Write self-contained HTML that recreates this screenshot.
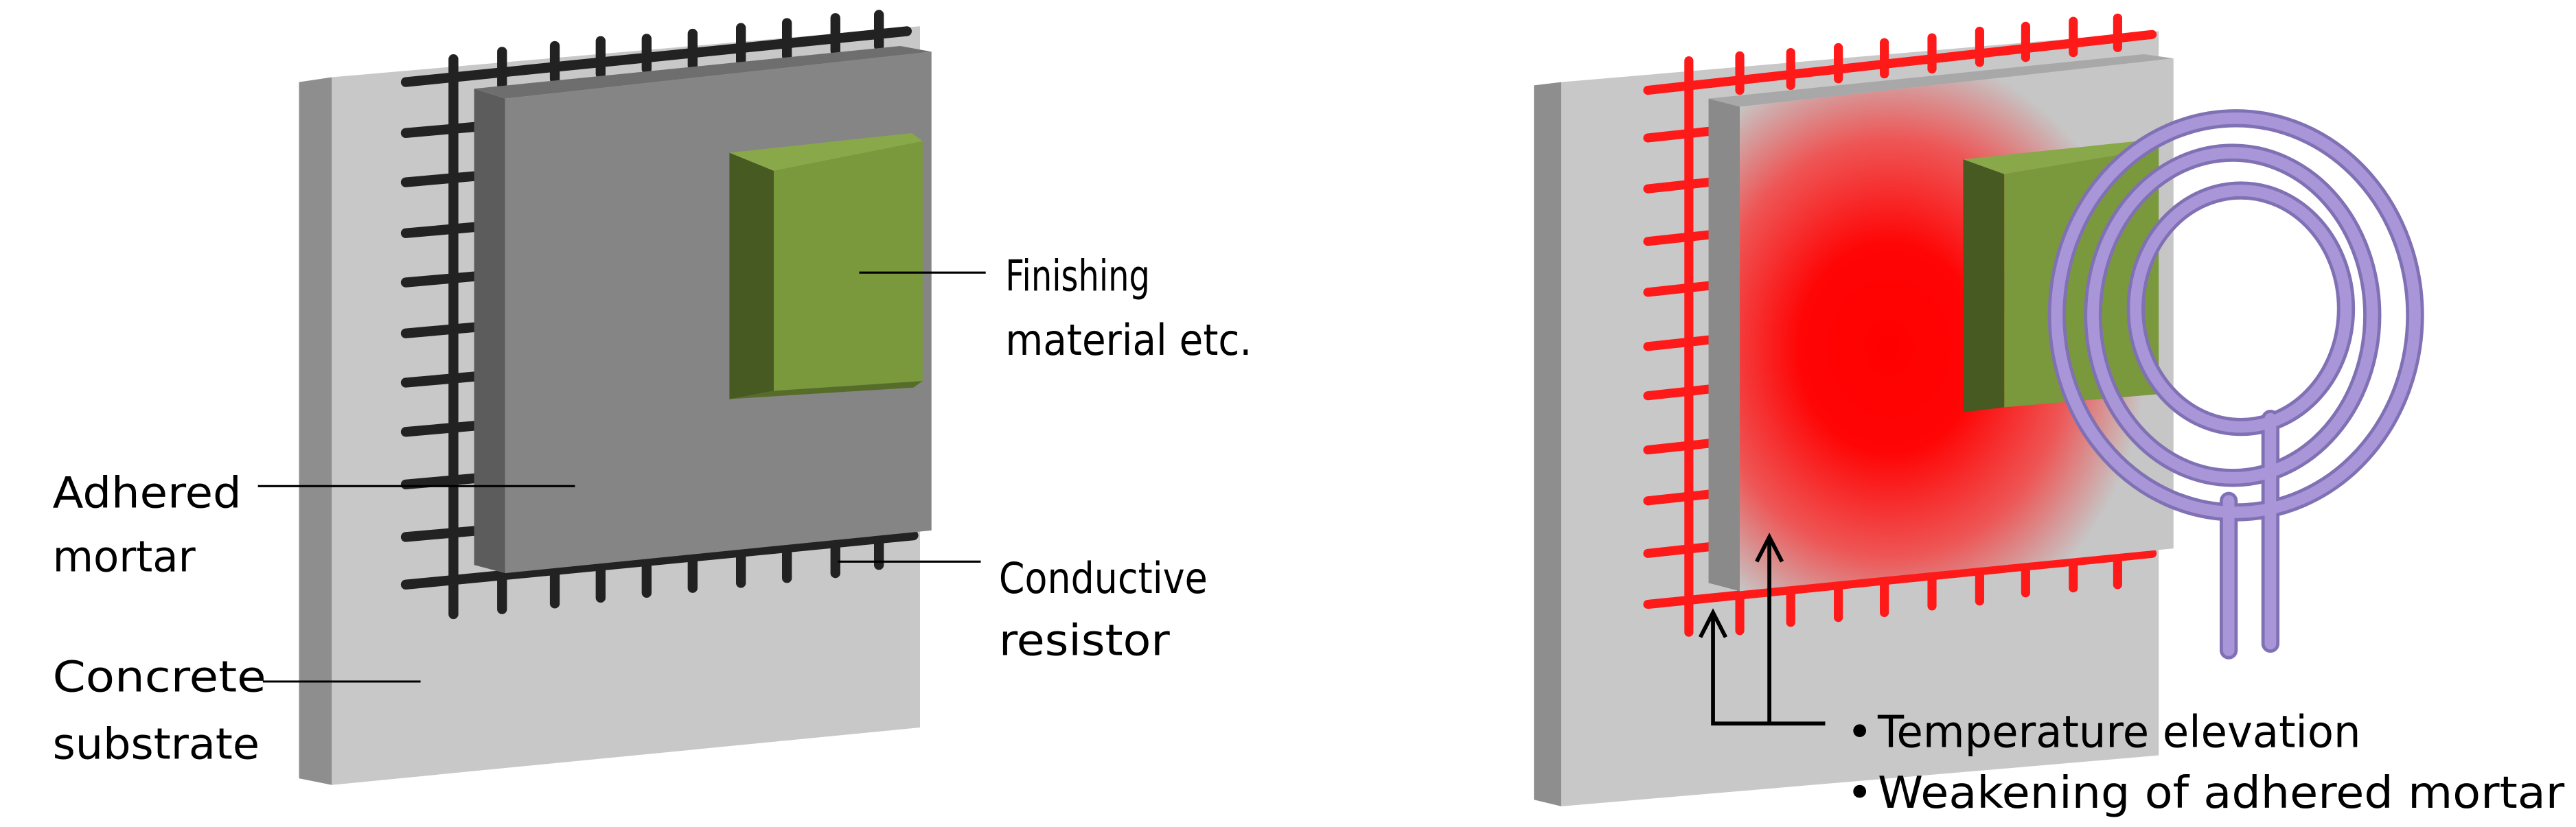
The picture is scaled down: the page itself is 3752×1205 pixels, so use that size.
<!DOCTYPE html>
<html><head><meta charset="utf-8"><style>
html,body{margin:0;padding:0;background:#fff}
svg{display:block}
text{font-family:"DejaVu Sans","Liberation Sans",sans-serif;fill:#000}
</style></head><body>
<svg width="3752" height="1205" viewBox="0 0 1568 503.6" preserveAspectRatio="none" xmlns="http://www.w3.org/2000/svg">
<defs>
<radialGradient id="heat" cx="1150" cy="212" r="165" gradientUnits="userSpaceOnUse" gradientTransform="translate(1150 212) scale(0.95 1.1) translate(-1150 -212)">
<stop offset="0" stop-color="#ff0000"/>
<stop offset="0.35" stop-color="#ff0505"/>
<stop offset="0.7" stop-color="#ee5656"/>
<stop offset="1" stop-color="#c6c6c6"/>
</radialGradient>
</defs>

<!-- LEFT FIGURE -->
<polygon points="182,50 202,47 202,478 182,474" fill="#8e8e8e"/>
<polygon points="202,47 560,16 560,443 202,478" fill="#c8c8c8"/>
<g stroke="#222" stroke-width="6" stroke-linecap="round" fill="none">
<line x1="247" y1="50" x2="552" y2="19"/>
<line x1="247" y1="356" x2="556" y2="326"/>
<line x1="276" y1="36" x2="276" y2="374"/>
<line x1="247" y1="81" x2="292" y2="77"/>
<line x1="247" y1="111" x2="292" y2="107"/>
<line x1="247" y1="142" x2="292" y2="138"/>
<line x1="247" y1="172" x2="292" y2="168"/>
<line x1="247" y1="203" x2="292" y2="199"/>
<line x1="247" y1="233" x2="292" y2="229"/>
<line x1="247" y1="263" x2="292" y2="259"/>
<line x1="247" y1="295" x2="292" y2="291"/>
<line x1="247" y1="327" x2="292" y2="323"/>
<line x1="305.6" y1="31.5" x2="305.6" y2="52"/>
<line x1="337.7" y1="28" x2="337.7" y2="48"/>
<line x1="365.6" y1="25" x2="365.6" y2="45"/>
<line x1="393.6" y1="23.6" x2="393.6" y2="42"/>
<line x1="421.6" y1="20.5" x2="421.6" y2="40"/>
<line x1="451" y1="17" x2="451" y2="37"/>
<line x1="479" y1="14" x2="479" y2="34"/>
<line x1="508.5" y1="11" x2="508.5" y2="31"/>
<line x1="535" y1="9" x2="535" y2="28"/>
<line x1="305.6" y1="350" x2="305.6" y2="371"/>
<line x1="337.7" y1="347" x2="337.7" y2="367.5"/>
<line x1="365.6" y1="344" x2="365.6" y2="364"/>
<line x1="393.6" y1="341" x2="393.6" y2="361"/>
<line x1="421.6" y1="338" x2="421.6" y2="358"/>
<line x1="451" y1="335" x2="451" y2="355"/>
<line x1="479" y1="332" x2="479" y2="352"/>
<line x1="508.5" y1="329" x2="508.5" y2="349"/>
<line x1="535" y1="326" x2="535" y2="344"/>
</g>
<polygon points="288.6,54 307.5,60 307.5,349 288.6,344" fill="#5c5c5c"/>
<polygon points="288.6,54 548,28 567,31.5 307.5,60" fill="#6e6e6e"/>
<polygon points="307.5,60 567,31.5 567,323 307.5,349" fill="#858585"/>
<polygon points="444,93 471,104 471,238 444,243" fill="#475a22"/>
<polygon points="444,93 555,81 561.6,86 471,104" fill="#88a84a"/>
<polygon points="471,104 561.6,86 561.6,232 471,238" fill="#7a993c"/>
<polygon points="444,243 471,238 561.6,232 556,236" fill="#566d2a"/>

<g stroke="#000" stroke-width="1.3">
<line x1="523" y1="166" x2="600" y2="166"/>
<line x1="157" y1="296" x2="350" y2="296"/>
<line x1="510" y1="342" x2="597" y2="342"/>
<line x1="160" y1="415" x2="256" y2="415"/>
</g>
<g font-size="26">
<text x="612" y="177" textLength="88" lengthAdjust="spacingAndGlyphs">Finishing</text>
<text x="612" y="216" textLength="150" lengthAdjust="spacingAndGlyphs">material etc.</text>
<text x="32" y="309" textLength="115" lengthAdjust="spacingAndGlyphs">Adhered</text>
<text x="32" y="348" textLength="87" lengthAdjust="spacingAndGlyphs">mortar</text>
<text x="608" y="361" textLength="127" lengthAdjust="spacingAndGlyphs">Conductive</text>
<text x="608" y="399" textLength="104" lengthAdjust="spacingAndGlyphs">resistor</text>
<text x="32" y="421" textLength="130" lengthAdjust="spacingAndGlyphs">Concrete</text>
<text x="32" y="462" textLength="126" lengthAdjust="spacingAndGlyphs">substrate</text>
</g>

<!-- RIGHT FIGURE -->
<polygon points="933.7,52 950.4,50 950.4,491 933.7,487" fill="#8e8e8e"/>
<polygon points="950.4,50 1314,19 1314,460 950.4,491" fill="#c8c8c8"/>
<g stroke="#ff1a1a" stroke-width="5.5" stroke-linecap="round" fill="none">
<line x1="1003" y1="55" x2="1310" y2="21"/>
<line x1="1003" y1="368" x2="1310" y2="337"/>
<line x1="1028" y1="37" x2="1028" y2="385"/>
<line x1="1003" y1="84" x2="1040" y2="80"/>
<line x1="1003" y1="115" x2="1040" y2="111"/>
<line x1="1003" y1="147" x2="1040" y2="143"/>
<line x1="1003" y1="178" x2="1040" y2="174"/>
<line x1="1003" y1="211" x2="1040" y2="207"/>
<line x1="1003" y1="241" x2="1040" y2="237"/>
<line x1="1003" y1="274" x2="1040" y2="270"/>
<line x1="1003" y1="305" x2="1040" y2="301"/>
<line x1="1003" y1="337" x2="1040" y2="333"/>
<line x1="1059" y1="34" x2="1059" y2="55"/>
<line x1="1090" y1="32" x2="1090" y2="52"/>
<line x1="1119" y1="29" x2="1119" y2="48"/>
<line x1="1147" y1="26" x2="1147" y2="45"/>
<line x1="1176" y1="23" x2="1176" y2="42"/>
<line x1="1205" y1="19" x2="1205" y2="38"/>
<line x1="1233" y1="16" x2="1233" y2="35"/>
<line x1="1262" y1="13" x2="1262" y2="32"/>
<line x1="1289" y1="11" x2="1289" y2="29"/>
<line x1="1059" y1="362" x2="1059" y2="384"/>
<line x1="1090" y1="360" x2="1090" y2="379"/>
<line x1="1119" y1="357" x2="1119" y2="376"/>
<line x1="1147" y1="354" x2="1147" y2="373"/>
<line x1="1176" y1="351" x2="1176" y2="369"/>
<line x1="1205" y1="348" x2="1205" y2="366"/>
<line x1="1233" y1="345" x2="1233" y2="361"/>
<line x1="1262" y1="342" x2="1262" y2="358"/>
<line x1="1289" y1="339" x2="1289" y2="356"/>
</g>
<polygon points="1040,60 1059,65 1059,360 1040,355" fill="#8a8a8a"/>
<polygon points="1040,60 1305,33 1323,35.6 1059,65" fill="#a8a8a8"/>
<polygon points="1059,65 1323,35.6 1323,334 1059,360" fill="url(#heat)"/>
<polygon points="1195,97 1220,106 1220,248 1195,251" fill="#475a22"/>
<polygon points="1195,97 1310,85 1314,90 1220,106" fill="#88a84a"/>
<polygon points="1220,106 1314,90 1314,240 1220,248" fill="#7a993c"/>

<!-- coil -->
<g fill="none" stroke-linecap="round">
<g stroke="#8070b4" stroke-width="11">
<ellipse cx="1361" cy="192" rx="109" ry="120"/>
<ellipse cx="1359" cy="192" rx="85" ry="99"/>
<ellipse cx="1364" cy="188" rx="64" ry="72"/>
<line x1="1356.6" y1="305" x2="1356.6" y2="396"/>
<line x1="1382" y1="255" x2="1382" y2="392"/>
</g>
<g stroke="#a996d8" stroke-width="7">
<ellipse cx="1361" cy="192" rx="109" ry="120"/>
<ellipse cx="1359" cy="192" rx="85" ry="99"/>
<ellipse cx="1364" cy="188" rx="64" ry="72"/>
<line x1="1356.6" y1="305" x2="1356.6" y2="396"/>
<line x1="1382" y1="255" x2="1382" y2="392"/>
</g>
</g>

<!-- arrows -->
<g stroke="#000" stroke-width="2.4" fill="none">
<polyline points="1042.7,373 1042.7,440.6 1111,440.6"/>
<line x1="1077" y1="327" x2="1077" y2="440.6"/>
<polyline points="1035,388 1042.7,373 1050.4,388"/>
<polyline points="1069.3,342 1077,327 1084.7,342"/>
</g>
<g font-size="27">
<text x="1124" y="455">•</text>
<text x="1143" y="455" textLength="294" lengthAdjust="spacingAndGlyphs">Temperature elevation</text>
<text x="1124" y="492">•</text>
<text x="1143" y="492" textLength="418" lengthAdjust="spacingAndGlyphs">Weakening of adhered mortar</text>
</g>
</svg>
</body></html>
